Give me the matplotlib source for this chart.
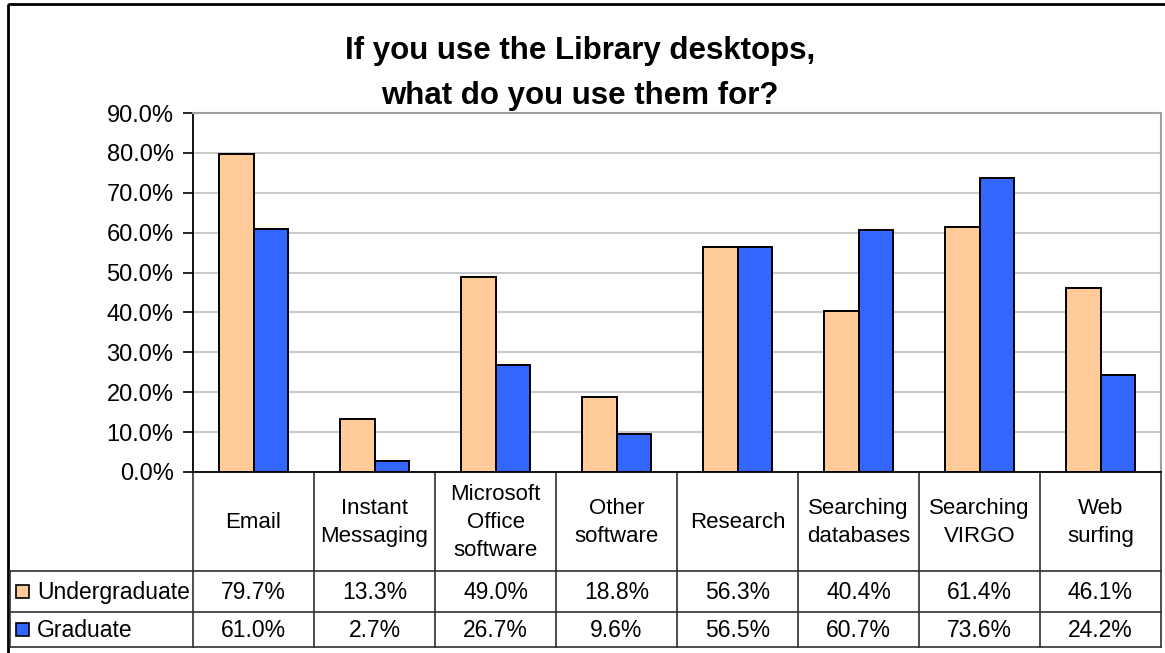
import matplotlib.pyplot as plt
from matplotlib.patches import Rectangle
import numpy as np

plt.rcParams["font.family"] = ["Liberation Sans", "DejaVu Sans"]

# Survey results
categories = ["Email", "Instant\nMessaging", "Microsoft\nOffice\nsoftware",
              "Other\nsoftware", "Research", "Searching\ndatabases",
              "Searching\nVIRGO", "Web\nsurfing"]
undergrad = [79.7, 13.3, 49.0, 18.8, 56.3, 40.4, 61.4, 46.1]
graduate = [61.0, 2.7, 26.7, 9.6, 56.5, 60.7, 73.6, 24.2]
series = ["Undergraduate", "Graduate"]
colors = ["#FFCC99", "#3366FF"]
title_lines = ["If you use the Library desktops,", "what do you use them for?"]

W, H = 1165, 653
fig = plt.figure(figsize=(W / 100, H / 100), dpi=100)

# Plot area in pixel bounds
x0, x1, y0, y1 = 193, 1161, 113, 472
ax = fig.add_axes([x0 / W, 1 - y1 / H, (x1 - x0) / W, (y1 - y0) / H])

n = len(categories)
x = np.arange(n)
bw = 0.285
ax.bar(x - bw / 2, undergrad, bw, color=colors[0], edgecolor="black", linewidth=1.4, zorder=3)
ax.bar(x + bw / 2, graduate, bw, color=colors[1], edgecolor="black", linewidth=1.4, zorder=3)

ax.set_xlim(-0.5, n - 0.5)
ax.set_ylim(0, 90)
ax.set_yticks(np.arange(0, 91, 10))
ax.set_yticklabels([f"{v:.1f}%" for v in np.arange(0, 91, 10)], fontsize=17)
ax.set_xticks([])
ax.tick_params(axis="y", direction="out", length=7, width=1.2, pad=7)
ax.grid(axis="y", color="#c0c0c0", linewidth=1.2, zorder=0)
for s in ["top", "right"]:
    ax.spines[s].set_color("#a0a0a0")
    ax.spines[s].set_linewidth(1.5)
ax.spines["left"].set_linewidth(1.3)
ax.spines["bottom"].set_linewidth(1.3)

for line, ty in zip(title_lines, [51, 96]):
    fig.text(580 / W, 1 - ty / H, line, ha="center", va="center",
             fontsize=22.5, fontweight="bold")

# Data table drawn in pixel coordinates
tx = fig.add_axes([0, 0, 1, 1], zorder=-1)
tx.set_xlim(0, W)
tx.set_ylim(H, 0)
tx.axis("off")

cw = (x1 - x0) / n
row_top, row_u, row_g, row_bot = y1, 571, 612, 647
lc = "#303030"
for k in range(n + 1):
    tx.plot([x0 + k * cw] * 2, [row_top, row_bot], color=lc, lw=1.2)
for yy in [row_u, row_g, row_bot]:
    tx.plot([10, x1], [yy, yy], color=lc, lw=1.2)
tx.plot([10, 10], [row_u, row_bot], color=lc, lw=1.2)

for k, cat in enumerate(categories):
    cx = x0 + (k + 0.5) * cw
    tx.text(cx, (row_top + row_u) / 2 + 1, cat, ha="center", va="center",
            fontsize=16, linespacing=1.45)
    tx.text(cx, (row_u + row_g) / 2 + 1, f"{undergrad[k]:.1f}%", ha="center",
            va="center", fontsize=16.5)
    tx.text(cx, (row_g + row_bot) / 2 + 1, f"{graduate[k]:.1f}%", ha="center",
            va="center", fontsize=16.5)

for name, col, (ra, rb) in zip(series, colors, [(row_u, row_g), (row_g, row_bot)]):
    cy = (ra + rb) / 2
    tx.add_patch(Rectangle((16, cy - 6.5), 13, 13, facecolor=col, edgecolor="black", lw=1.2))
    tx.text(37, cy + 1, name, ha="left", va="center", fontsize=16.5)

# Chart frame
tx.add_patch(Rectangle((8, 4), 1300, 800, facecolor="none", edgecolor="black", lw=2))

fig.savefig("out.png", dpi=100)
